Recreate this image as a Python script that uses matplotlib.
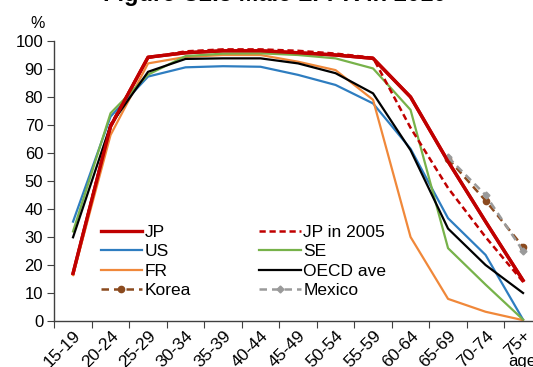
import numpy as np
import matplotlib
matplotlib.use("Agg")
import matplotlib.pyplot as plt

plt.rcParams['font.family'] = ['Liberation Sans', 'DejaVu Sans']

categories = ["15-19", "20-24", "25-29", "30-34", "35-39", "40-44", "45-49",
              "50-54", "55-59", "60-64", "65-69", "70-74", "75+"]
nan = np.nan
jp = [17, 69.5, 94.2, 95.8, 96.5, 96.5, 95.8, 95, 93.8, 80, 57, 35.5, 14.5]
jp2005 = [17, 70, 94, 96.3, 97, 97, 96.5, 95.5, 94, 69, 47.5, 30, 14]
us = [35.5, 73, 87.3, 90.6, 91, 90.8, 87.9, 84.3, 77.7, 61.5, 36.7, 23.6, 0.5]
se = [32, 74.2, 88, 94.6, 95.5, 95.6, 95, 93.8, 90.2, 75.4, 26, 13, 0.5]
fr = [16.4, 66.4, 92, 94.3, 95, 95, 92.6, 89.6, 79, 30, 7.9, 3.3, 0.3]
oecd = [29.9, 70, 89, 93.6, 93.8, 93.8, 92, 88.5, 81.3, 61, 33, 20, 10]
korea = [nan] * 10 + [58, 43, 26.5]
mexico = [nan] * 10 + [58.5, 45, 25]

fig = plt.figure(figsize=(5.33, 3.67), dpi=100)
W, H = 533, 367
x0, x1, y0, y1 = 54.3, 541.8, 321, 41
ax = fig.add_axes([x0 / W, (H - y0) / H, (x1 - x0) / W, (y0 - y1) / H])

x = np.arange(len(categories)) + 0.5

red = "#C00000"
l_jp, = ax.plot(x, jp, color=red, lw=2.4, label="JP")
l_us, = ax.plot(x, us, color="#2E7DC0", lw=1.6, label="US")
l_fr, = ax.plot(x, fr, color="#F0883A", lw=1.6, label="FR")
l_ko, = ax.plot(x, korea, color="#8B4A1E", lw=1.8, ls=(0, (3, 2)), marker="o",
                ms=4.5, label="Korea")
l_se, = ax.plot(x, se, color="#77B24A", lw=1.6, label="SE")
l_oe, = ax.plot(x, oecd, color="black", lw=1.6, label="OECD ave")
l_mx, = ax.plot(x, mexico, color="#9A9A9A", lw=1.8, ls=(0, (3, 2)), marker="D",
                ms=3.5, label="Mexico")
l_j5, = ax.plot(x, jp2005, color=red, lw=1.8, ls=(0, (2.5, 1.5)), label="JP in 2005")
ax.plot(x, jp, color=red, lw=2.4)

ax.set_xlim(0, len(categories))
ax.set_ylim(0, 100)
ax.set_yticks(np.arange(0, 101, 10))
ax.set_xticks(np.arange(0, len(categories) + 1))
ax.set_xticklabels([])
ax.set_xticks(x, minor=True)
ax.set_xticklabels(categories, minor=True, rotation=45, ha="right",
                   rotation_mode="anchor", fontsize=12.5)
ax.tick_params(axis="x", which="minor", length=0, pad=5)
ax.tick_params(axis="x", which="major", length=5, direction="out", color="#404040")
ax.tick_params(axis="y", length=5, direction="out", color="#404040", labelsize=12, pad=3)
for s in ["top", "right"]:
    ax.spines[s].set_visible(False)
for s in ["left", "bottom"]:
    ax.spines[s].set_color("#404040")
    ax.spines[s].set_linewidth(1.0)

handles = [l_jp, l_us, l_fr, l_ko, l_j5, l_se, l_oe, l_mx]
leg = ax.legend(handles=handles, labels=[h.get_label() for h in handles],
                ncol=2, loc="upper left",
                bbox_to_anchor=((100 - x0) / (x1 - x0) - 0.013, 0.368),
                frameon=False, fontsize=12.5, handlelength=2.4, handletextpad=0.15,
                columnspacing=3.9, labelspacing=0.24, borderaxespad=0)

fig.text(38 / W, 1 - 24 / H, "%", fontsize=11.5, ha="center", va="center")
fig.text(508 / W, 1 - 369 / H, "age", fontsize=12, ha="left", va="bottom")
fig.text(275 / W, 1 - 1 / H, "Figure C2.3 Male LFPR in 2010", fontsize=17,
         fontweight="bold", ha="center", va="baseline")

fig.savefig("out.png", dpi=100)
